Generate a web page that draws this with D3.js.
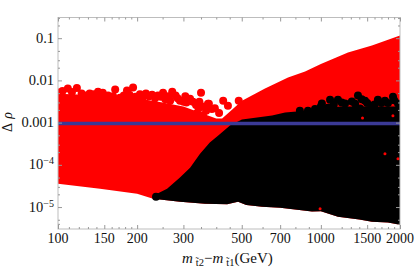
<!DOCTYPE html>
<html>
<head>
<meta charset="utf-8">
<script src="https://cdn.jsdelivr.net/npm/d3@7"></script>
<style>
  html, body { margin: 0; background: #fff; }
  text { font-family: "Liberation Serif", serif; fill: #111; }
</style>
</head>
<body>
<div id="chart"></div>
<script>
const width = 415;
const height = 270;
const margin = { top: 17.5, right: 15, bottom: 41, left: 58 };

// [mass difference, delta rho]
const redLower = [[100, 3.58e-5], [144.5, 2.73e-5], [200, 2.07e-5], [230, 1.58e-5], [291, 1.34e-5], [362, 1.2e-5],
    [440, 1.17e-5], [484, 1.33e-5], [520, 1.12e-5], [597, 1.02e-5], [700, 9.6e-6], [925, 7.8e-6], [1000, 7.9e-6],
    [1161, 5.9e-6], [1400, 5.1e-6], [1564, 4.5e-6], [1800, 4.3e-6], [2000, 3.83e-6]];
const redUpper = [[100, 0.0048], [150, 0.0044], [200, 0.0038], [250, 0.003], [300, 0.0024], [350, 0.0017], [400, 0.00125],
    [421, 0.00125], [459, 0.00203], [501, 0.0033], [613, 0.0064], [750, 0.0117], [871, 0.0162], [1000, 0.0243],
    [1268, 0.0456], [1564, 0.0668], [2000, 0.115]];
const blackUpper = [[230, 1.86e-5], [260, 2.73e-5], [291, 5e-5], [318, 8.5e-5], [347, 1.84e-4], [378, 3.36e-4], [406, 4.9e-4],
    [451, 8.5e-4], [501, 0.00118], [652, 0.00147], [731, 0.00173], [871, 0.00192], [1000, 0.0021], [1183, 0.0024],
    [1500, 0.0024], [2000, 0.0024]];
const redPoints = [[109, 0.0064], [118, 0.0066], [165, 0.0061], [193, 0.0068], [183, 0.0058], [132, 0.0049], [142, 0.0054],
    [148, 0.0051], [158, 0.0039], [172, 0.0039], [251, 0.0051], [272, 0.0054], [350, 0.0051], [318, 0.0037], [372, 0.0028],
    [210, 0.0039], [228, 0.0046], [240, 0.0044], [267, 0.0033], [291, 0.0033], [338, 0.0017], [356, 0.0015], [375, 0.0028],
    [425, 0.0033], [443, 0.0025], [487, 0.0033], [366, 0.0019],
    [100, 0.0052], [104, 0.0056], [113, 0.0053], [123, 0.0049], [128, 0.0044], [137, 0.0047], [146, 0.0046], [155, 0.0044],
    [162, 0.0042], [178, 0.0044], [187, 0.0046], [197, 0.0041], [205, 0.0047], [216, 0.0049], [222, 0.0042], [234, 0.0038],
    [246, 0.0041], [256, 0.0036], [263, 0.0042], [280, 0.0044], [285, 0.0038], [300, 0.0031], [305, 0.0042], [326, 0.0031],
    [335, 0.0026], [345, 0.0031], [355, 0.0024], [385, 0.0021], [395, 0.0022], [410, 0.0017], [343, 0.0022], [308, 0.003]];
const blackPoints = [[1009, 0.00282], [1084, 0.0035], [1161, 0.0035], [1384, 0.00437], [1472, 0.0033], [1648, 0.0035],
    [1881, 0.0041], [1965, 0.00282], [1236, 0.00282], [1312, 0.00316], [1753, 0.0033], [893, 0.00192], [832, 0.00192],
    [1064, 0.00226], [1564, 0.0025], [1409, 0.00215], [236, 1.75e-5],
    [950, 0.0021], [1120, 0.0027], [1200, 0.003], [1350, 0.0028], [1430, 0.0036], [1500, 0.0029], [1600, 0.0027],
    [1700, 0.0029], [1800, 0.0029], [1900, 0.0034], [1000, 0.0024]];
const redSpecks = [[1753, 1.84e-4], [1965, 1.4e-4], [993, 9.1e-6], [1440, 0.00128], [1880, 0.00145]];
const limitValue = 0.00095;

const xTicks = [100, 150, 200, 300, 500, 700, 1000, 1500, 2000];
const xMinor = [110, 120, 130, 140, 160, 170, 180, 190, 250, 350, 400, 450, 600, 800, 900, 1200, 1300, 1400, 1600, 1700, 1800, 1900];
const yTicks = [0.1, 0.01, 0.001, 1e-4, 1e-5];
const yLabels = ["0.1", "0.01", "0.001", "10|−4", "10|−5"];
const yMinor = [0.2, 0.3, 0.05, 0.03, 0.02, 0.005, 0.003, 0.002, 5e-4, 3e-4, 2e-4, 5e-5, 3e-5, 2e-5, 5e-6, 4e-6];

const x = d3.scaleLog().domain([100, 2000]).range([margin.left, width - margin.right]);
const y = d3.scaleLog().domain([Math.pow(10, -5.52), Math.pow(10, -0.51)]).range([height - margin.bottom, margin.top]);

const svg = d3.select("#chart").append("svg")
    .attr("width", width)
    .attr("height", height)
    .style("display", "block");

svg.append("clipPath").attr("id", "plot-clip")
    .append("rect")
    .attr("x", margin.left)
    .attr("y", margin.top)
    .attr("width", width - margin.left - margin.right)
    .attr("height", height - margin.top - margin.bottom);

const plot = svg.append("g").attr("clip-path", "url(#plot-clip)");

function lowerAt(v) {
    const i = d3.bisector(d => d[0]).left(redLower, v);
    if (i <= 0) return redLower[0][1];
    const a = redLower[i - 1];
    const b = redLower[i];
    const t = Math.log(v / a[0]) / Math.log(b[0] / a[0]);
    return a[1] * Math.pow(b[1] / a[1], t);
}

// Lower edge has its own breakpoints, so trace the outline from both arrays
function regionPath(upper) {
    const start = upper[0][0];
    const end = upper[upper.length - 1][0];
    const under = redLower.filter(d => d[0] > start && d[0] < end);
    const outline = upper
        .concat([[end, lowerAt(end)]])
        .concat(under.slice().reverse())
        .concat([[start, lowerAt(start)]]);
    return d3.line().x(d => x(d[0])).y(d => y(d[1]))(outline) + "Z";
}

// Red region and its scattered top edge
plot.append("path").attr("d", regionPath(redUpper)).attr("fill", "#ff0000");
plot.selectAll(".red-point")
    .data(redPoints)
    .enter()
    .append("circle")
    .attr("class", "red-point")
    .attr("cx", d => x(d[0]))
    .attr("cy", d => y(d[1]))
    .attr("r", 4)
    .attr("fill", "#ff0000");

// Black region
plot.append("path").attr("d", regionPath(blackUpper)).attr("fill", "#000");
plot.selectAll(".black-point")
    .data(blackPoints)
    .enter()
    .append("circle")
    .attr("class", "black-point")
    .attr("cx", d => x(d[0]))
    .attr("cy", d => y(d[1]))
    .attr("r", 4)
    .attr("fill", "#000");
plot.selectAll(".red-speck")
    .data(redSpecks)
    .enter()
    .append("circle")
    .attr("class", "red-speck")
    .attr("cx", d => x(d[0]))
    .attr("cy", d => y(d[1]))
    .attr("r", 1.5)
    .attr("fill", "#ff0000");

// Limit line
plot.append("line")
    .attr("x1", x(100))
    .attr("x2", x(2000))
    .attr("y1", y(limitValue))
    .attr("y2", y(limitValue))
    .attr("stroke", "#3b3a96")
    .attr("stroke-width", 3.5);

// Frame
svg.append("rect")
    .attr("x", margin.left)
    .attr("y", margin.top)
    .attr("width", width - margin.left - margin.right)
    .attr("height", height - margin.top - margin.bottom)
    .attr("fill", "none")
    .attr("stroke", "#bdbdbd");

function drawTicks(axis, values, size, transform) {
    const g = svg.append("g")
        .attr("transform", transform)
        .call(axis.tickValues(values).tickSize(size).tickFormat(""));
    g.select(".domain").remove();
    g.selectAll("line").attr("stroke", "#999");
}

const bottomEdge = `translate(0,${height - margin.bottom})`;
const topEdge = `translate(0,${margin.top})`;
const leftEdge = `translate(${margin.left},0)`;
const rightEdge = `translate(${width - margin.right},0)`;
drawTicks(d3.axisTop(x), xTicks, 4, bottomEdge);
drawTicks(d3.axisTop(x), xMinor, 2, bottomEdge);
drawTicks(d3.axisBottom(x), xTicks, 4, topEdge);
drawTicks(d3.axisBottom(x), xMinor, 2, topEdge);
drawTicks(d3.axisRight(y), yTicks, 4, leftEdge);
drawTicks(d3.axisRight(y), yMinor, 2, leftEdge);
drawTicks(d3.axisLeft(y), yTicks, 4, rightEdge);
drawTicks(d3.axisLeft(y), yMinor, 2, rightEdge);

// Tick labels
svg.selectAll(".x-label")
    .data(xTicks)
    .enter()
    .append("text")
    .attr("class", "x-label")
    .attr("x", d => x(d))
    .attr("y", 243)
    .attr("text-anchor", "middle")
    .attr("font-size", "14px")
    .text(d => d);

yTicks.forEach((v, i) => {
    const parts = yLabels[i].split("|");
    const label = svg.append("text")
        .attr("x", 54)
        .attr("y", y(v) + 4.5)
        .attr("text-anchor", "end")
        .attr("font-size", "14.5px")
        .text(parts[0]);
    if (parts[1]) {
        label.append("tspan")
            .attr("font-size", "10px")
            .attr("dy", -5)
            .text(parts[1]);
    }
});

// Axis titles
const xTitle = svg.append("text")
    .attr("x", 182)
    .attr("y", 263)
    .attr("font-size", "15px");
xTitle.append("tspan").attr("font-style", "italic").text("m");
xTitle.append("tspan").attr("font-size", "10.5px").attr("dx", 3).attr("dy", 3).text("t\u03032");
xTitle.append("tspan").attr("dy", -3).text("\u2212");
xTitle.append("tspan").attr("font-style", "italic").text("m");
xTitle.append("tspan").attr("font-size", "10.5px").attr("dx", 3).attr("dy", 3).text("t\u03031");
xTitle.append("tspan").attr("dy", -3).text("(GeV)");

const yTitle = svg.append("text")
    .attr("transform", "translate(12,122) rotate(-90)")
    .attr("text-anchor", "middle")
    .attr("font-size", "14px");
yTitle.append("tspan").text("\u0394");
yTitle.append("tspan").attr("dx", 4).attr("font-style", "italic").text("\u03C1");
</script>
</body>
</html>
